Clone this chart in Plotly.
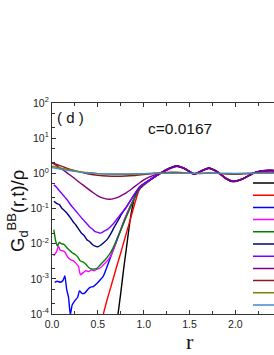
import plotly.graph_objects as go

# ---------------- data ----------------
names = ["t1", "t2", "t3", "t4", "t5", "t6", "t7", "t8", "t9", "t10", "t11"]
colors = ["#000000", "#ff0000", "#0000ff", "#ff00ff", "#008000", "#000080",
          "#8000ff", "#800080", "#8b1a1a", "#808000", "#4a86c8"]

tail_x = [1.27, 1.36, 1.45, 1.55, 1.63, 1.71, 1.8, 1.9, 1.98, 2.08, 2.2, 2.3, 2.4, 2.45]

black_x = [0.72, 0.75, 0.78, 0.81, 0.84, 0.87, 0.9, 0.96, 1.07, 1.18] + tail_x
black_y = [1e-4, 4e-4, 0.0018, 0.007, 0.028, 0.09, 0.2, 0.37, 0.64, 1.0,
           1.36, 1.66, 1.34, 0.94, 1.18, 1.42, 1.12, 0.7, 0.58, 0.7, 1.02, 1.18, 1.2, 1.16]

red_x = [0.56, 0.6, 0.65, 0.7, 0.75, 0.8, 0.85, 0.9, 0.96, 1.07, 1.18] + tail_x
red_y = [1e-4, 2.5e-4, 7e-4, 0.002, 0.0055, 0.016, 0.045, 0.13, 0.38, 0.65, 1.0,
         1.35, 1.64, 1.34, 0.95, 1.18, 1.41, 1.12, 0.7, 0.58, 0.7, 1.02, 1.18, 1.2, 1.16]

blue_x = [0.03, 0.06, 0.09, 0.12, 0.14, 0.16, 0.18, 0.2, 0.22, 0.25, 0.28, 0.3, 0.33,
          0.36, 0.39, 0.42, 0.45, 0.48, 0.52, 0.56, 0.6, 0.65, 0.7, 0.75, 0.8, 0.85,
          0.9, 0.96, 1.07, 1.18] + tail_x
blue_y = [0.0008, 0.00085, 0.0008, 0.0009, 0.0012, 0.0005, 0.0003, 0.000095, 0.00018,
          0.00024, 0.0003, 0.00045, 0.00038, 0.0004, 0.0005, 0.00058, 0.0006, 0.0007,
          0.0009, 0.0012, 0.0022, 0.005, 0.011, 0.025, 0.055, 0.11, 0.2, 0.4, 0.66, 1.0,
          1.35, 1.63, 1.35, 0.96, 1.18, 1.41, 1.12, 0.71, 0.59, 0.7, 1.02, 1.18, 1.2, 1.16]

magenta_x = [0.02, 0.05, 0.07, 0.09, 0.12, 0.14, 0.17, 0.2, 0.23, 0.26, 0.29, 0.31,
             0.34, 0.37, 0.4, 0.43, 0.46, 0.49, 0.52, 0.56, 0.6, 0.64, 0.68, 0.72,
             0.76, 0.8, 0.85, 0.9, 0.96, 1.07, 1.18] + tail_x
magenta_y = [0.0045, 0.006, 0.0085, 0.0065, 0.0062, 0.0058, 0.0042, 0.0035, 0.0033,
             0.0028, 0.0022, 0.0013, 0.0015, 0.0017, 0.0016, 0.0018, 0.0017, 0.0019,
             0.002, 0.0025, 0.0032, 0.0045, 0.008, 0.016, 0.03, 0.055, 0.11, 0.2, 0.4,
             0.66, 1.0,
             1.35, 1.62, 1.35, 0.96, 1.18, 1.4, 1.12, 0.71, 0.59, 0.7, 1.02, 1.18, 1.2, 1.16]

green_x = [0.02, 0.04, 0.06, 0.08, 0.1, 0.13, 0.16, 0.19, 0.22, 0.25, 0.28, 0.31,
           0.34, 0.37, 0.4, 0.43, 0.46, 0.49, 0.52, 0.55, 0.58, 0.62, 0.66, 0.7,
           0.75, 0.8, 0.85, 0.9, 0.96, 1.07, 1.18] + tail_x
green_y = [0.025, 0.012, 0.0085, 0.011, 0.01, 0.0095, 0.0078, 0.0065, 0.0055, 0.005,
           0.0042, 0.0032, 0.003, 0.0026, 0.0021, 0.0019, 0.0019, 0.002, 0.0024,
           0.0029, 0.0035, 0.0047, 0.007, 0.012, 0.024, 0.05, 0.1, 0.2, 0.4, 0.66, 1.0,
           1.35, 1.62, 1.35, 0.96, 1.18, 1.4, 1.12, 0.71, 0.59, 0.7, 1.02, 1.18, 1.2, 1.16]

navy_x = [0.02, 0.05, 0.08, 0.11, 0.14, 0.17, 0.2, 0.23, 0.26, 0.29, 0.32, 0.35,
          0.38, 0.41, 0.44, 0.47, 0.5, 0.53, 0.56, 0.6, 0.64, 0.68, 0.72, 0.76, 0.8,
          0.85, 0.9, 0.96, 1.07, 1.18] + tail_x
navy_y = [0.16, 0.14, 0.13, 0.1, 0.085, 0.07, 0.055, 0.042, 0.034, 0.026, 0.02,
          0.017, 0.013, 0.0115, 0.0095, 0.0085, 0.0082, 0.009, 0.0105, 0.013, 0.019,
          0.03, 0.045, 0.07, 0.1, 0.16, 0.25, 0.42, 0.66, 1.0,
          1.34, 1.61, 1.35, 0.96, 1.17, 1.4, 1.12, 0.71, 0.59, 0.7, 1.02, 1.18, 1.2, 1.16]

violet_x = [0.02, 0.05, 0.08, 0.11, 0.14, 0.17, 0.2, 0.23, 0.26, 0.29, 0.32, 0.35,
            0.38, 0.41, 0.44, 0.47, 0.5, 0.53, 0.56, 0.6, 0.64, 0.68, 0.72, 0.76,
            0.8, 0.85, 0.9, 0.96, 1.07, 1.18] + tail_x
violet_y = [0.47, 0.4, 0.32, 0.26, 0.21, 0.17, 0.13, 0.105, 0.085, 0.068, 0.055,
            0.045, 0.037, 0.03, 0.026, 0.022, 0.021, 0.02, 0.022, 0.025, 0.031, 0.04,
            0.055, 0.075, 0.1, 0.16, 0.26, 0.42, 0.66, 1.0,
            1.33, 1.6, 1.35, 0.97, 1.17, 1.39, 1.12, 0.72, 0.6, 0.7, 1.01, 1.17, 1.2, 1.16]

purple_x = [0.0, 0.05, 0.1, 0.15, 0.2, 0.25, 0.3, 0.35, 0.4, 0.45, 0.5, 0.55, 0.6,
            0.65, 0.7, 0.75, 0.8, 0.85, 0.9, 0.96, 1.02, 1.07, 1.12, 1.18] + tail_x
purple_y = [2.0, 1.65, 1.35, 1.1, 0.88, 0.7, 0.55, 0.44, 0.35, 0.28, 0.23, 0.2, 0.185,
            0.185, 0.2, 0.23, 0.27, 0.33, 0.42, 0.55, 0.7, 0.8, 0.9, 1.0,
            1.3, 1.55, 1.35, 0.98, 1.15, 1.38, 1.12, 0.72, 0.6, 0.7, 1.0, 1.15, 1.18, 1.15]

flat_x = [0.0, 0.1, 0.2, 0.3, 0.4, 0.5, 0.6, 0.7, 0.8, 0.9, 1.0, 1.1, 1.2, 1.3, 1.4,
          1.5, 1.6, 1.7, 1.8, 1.9, 2.0, 2.1, 2.2, 2.3, 2.45]
brown_y = [2.0, 1.6, 1.3, 1.1, 0.96, 0.88, 0.84, 0.83, 0.84, 0.87, 0.93, 0.99, 1.04,
           1.07, 1.06, 1.01, 0.99, 1.02, 1.01, 0.96, 0.94, 0.97, 1.01, 1.03, 1.02]
olive_y = [1.6, 1.4, 1.25, 1.12, 1.04, 0.98, 0.95, 0.94, 0.94, 0.95, 0.97, 1.0, 1.01,
           1.02, 1.02, 1.0, 1.0, 1.0, 1.0, 0.99, 0.98, 0.99, 1.0, 1.0, 1.0]
steel_y = [1.45, 1.3, 1.18, 1.08, 1.02, 0.98, 0.96, 0.96, 0.96, 0.97, 0.98, 0.99, 1.0,
           1.0, 1.0, 1.0, 1.0, 1.0, 1.0, 0.99, 0.99, 1.0, 1.0, 1.0, 1.0]

series_x = [black_x, red_x, blue_x, magenta_x, green_x, navy_x, violet_x, purple_x,
            flat_x, flat_x, flat_x]
series_y = [black_y, red_y, blue_y, magenta_y, green_y, navy_y, violet_y, purple_y,
            brown_y, olive_y, steel_y]

ytick_vals = [1e-4, 1e-3, 1e-2, 1e-1, 1e0, 1e1, 1e2]
ytick_text = ["10<sup>-4</sup>", "10<sup>-3</sup>", "10<sup>-2</sup>", "10<sup>-1</sup>",
              "10<sup>0</sup>", "10<sup>1</sup>", "10<sup>2</sup>"]
xtick_vals = [0.0, 0.5, 1.0, 1.5, 2.0]
xtick_text = ["0.0", "0.5", "1.0", "1.5", "2.0"]

# ---------------- figure ----------------
W, H = 274, 355
L, R, T, B = 52, 0, 103, 41
pw, ph = W - L - R, H - T - B


def px(xp):
    return (xp - L) / pw


def py(yp):
    return (T + ph - yp) / ph


fig = go.Figure()
for nm, c, xs, ys in zip(names, colors, series_x, series_y):
    fig.add_trace(go.Scatter(x=xs, y=ys, mode="lines", name=nm, showlegend=False,
                             line=dict(color=c, width=1.4, shape="spline", smoothing=0.6)))

# legend key lines (legend text lies beyond the cropped right edge)
shapes = []
for i, c in enumerate(colors):
    yk = py(183 + 12.2 * i)
    shapes.append(dict(type="line", xref="paper", yref="paper",
                       x0=px(253), x1=1.1, y0=yk, y1=yk,
                       line=dict(color=c, width=1.5)))

axis_font = dict(family="Liberation Sans, Arial, sans-serif", size=10.5, color="#222")
txt_font = dict(family="Liberation Sans, Arial, sans-serif", size=15, color="#111")
fig.update_layout(
    width=W, height=H,
    margin=dict(l=L, r=R, t=T, b=B, autoexpand=False),
    paper_bgcolor="white", plot_bgcolor="white",
    shapes=shapes,
    xaxis=dict(range=[0, pw / 91.7], tickvals=xtick_vals, ticktext=xtick_text,
               ticks="inside", ticklen=4, tickwidth=1, tickcolor="#333",
               showline=True, linecolor="#333", linewidth=1.3, mirror="ticks",
               showgrid=False, zeroline=False, tickfont=axis_font,
               minor=dict(ticks="inside", ticklen=2.5, dtick=0.25, tickcolor="#333")),
    yaxis=dict(type="log", range=[-4, 2], tickvals=ytick_vals, ticktext=ytick_text,
               ticks="inside", ticklen=4, tickwidth=1, tickcolor="#333",
               showline=True, linecolor="#333", linewidth=1.3, mirror=False,
               showgrid=False, zeroline=False, tickfont=axis_font,
               minor=dict(ticks="inside", ticklen=2.5, tickcolor="#333", showgrid=False)),
    annotations=[
        dict(text="( d )", xref="paper", yref="paper", x=px(70), y=py(118),
             xanchor="center", yanchor="middle", showarrow=False, font=txt_font),
        dict(text="c=0.0167", xref="paper", yref="paper", x=px(180), y=py(128),
             xanchor="center", yanchor="middle", showarrow=False,
             font=dict(family="Liberation Sans, Arial, sans-serif", size=15.5, color="#111")),
        dict(text="r", xref="paper", yref="paper", x=px(190), y=py(341),
             xanchor="center", yanchor="middle", showarrow=False,
             font=dict(family="Liberation Serif, Times New Roman, serif", size=22, color="#111")),
        dict(text="G<sub>d</sub><sup>BB</sup>(r,t)/ρ", xref="paper", yref="paper",
             x=px(17), y=py(211), xanchor="center", yanchor="middle",
             textangle=-90, showarrow=False,
             font=dict(family="Liberation Sans, Arial, sans-serif", size=18.5, color="#111")),
    ],
)

fig.write_html("out.html", config={"displayModeBar": False},
               post_script="document.body.style.margin='0';")
